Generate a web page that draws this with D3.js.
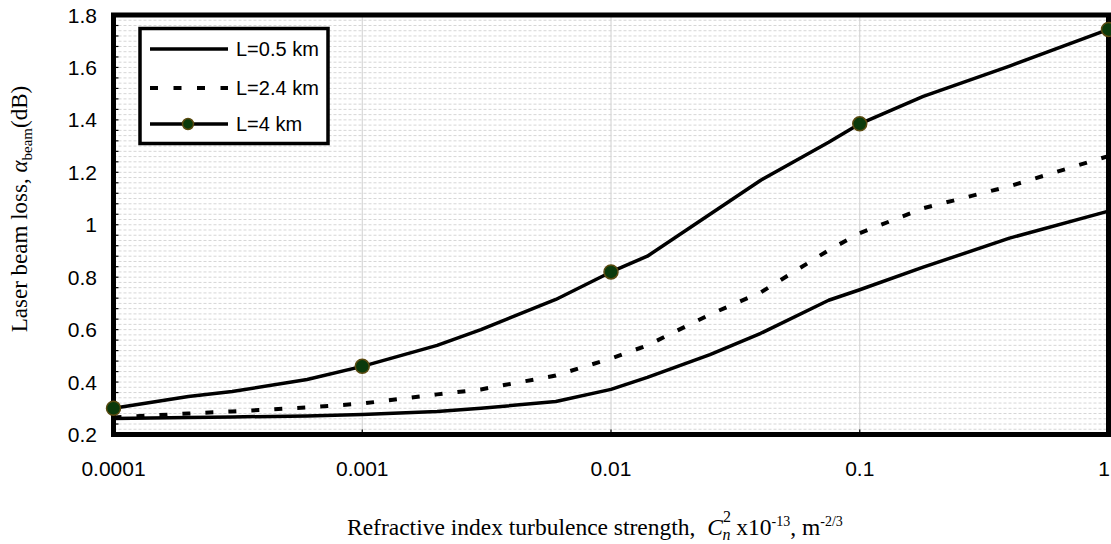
<!DOCTYPE html>
<html>
<head>
<meta charset="utf-8">
<script src="https://cdn.jsdelivr.net/npm/d3@7"></script>
<style>
  html, body { margin: 0; padding: 0; background: #fff; }
  svg { display: block; }
</style>
</head>
<body>
<svg id="chart" width="1111" height="544"></svg>
<script>
// ---- data ----
const cn2 = [0.0001, 0.0002, 0.0003, 0.0006, 0.001, 0.002, 0.003, 0.006, 0.01, 0.014, 0.025, 0.04, 0.075, 0.1, 0.18, 0.4, 1];
const lossL05 = [0.261, 0.265, 0.267, 0.271, 0.276, 0.288, 0.300, 0.326, 0.372, 0.418, 0.505, 0.586, 0.712, 0.752, 0.838, 0.949, 1.052];
const lossL24 = [0.265, 0.280, 0.288, 0.303, 0.318, 0.353, 0.372, 0.425, 0.490, 0.540, 0.658, 0.742, 0.903, 0.968, 1.063, 1.147, 1.262];
const lossL4  = [0.300, 0.345, 0.364, 0.410, 0.460, 0.540, 0.600, 0.715, 0.820, 0.880, 1.040, 1.170, 1.315, 1.385, 1.490, 1.605, 1.745];
const markerX = [0.0001, 0.001, 0.01, 0.1, 1];
const seriesNames = ["L=0.5 km", "L=2.4 km", "L=4 km"];
const xTickValues = [0.0001, 0.001, 0.01, 0.1, 1];
const xTickLabels = ["0.0001", "0.001", "0.01", "0.1", "1"];
const yTickValues = [0.2, 0.4, 0.6, 0.8, 1.0, 1.2, 1.4, 1.6, 1.8];
const yTickLabels = ["0.2", "0.4", "0.6", "0.8", "1", "1.2", "1.4", "1.6", "1.8"];

// ---- layout ----
const svg = d3.select("#chart");
const L = 113.5, R = 1108.5, T = 15, B = 434.5;
const x = d3.scaleLog().domain([0.0001, 1]).range([L, R]);
const y = d3.scaleLinear().domain([0.2, 1.8]).range([B, T]);

// gridlines
const minorY = d3.range(11, 90).map(i => i * 0.02).filter(v => v > 0.2001 && v < 1.7999);
svg.append("g").selectAll("line").data(minorY).join("line")
  .attr("x1", L).attr("x2", R)
  .attr("y1", d => y(d)).attr("y2", d => y(d))
  .attr("stroke", "#d6d6d6").attr("stroke-width", 1).attr("stroke-dasharray", "3,2");
svg.append("g").selectAll("line").data([0.001, 0.01, 0.1]).join("line")
  .attr("x1", d => x(d)).attr("x2", d => x(d))
  .attr("y1", T).attr("y2", B)
  .attr("stroke", "#d0d0d0").attr("stroke-width", 1);

// left axis minor ticks (inside)
const tickY = d3.range(5, 46).map(i => i * 0.04).filter(v => v > 0.2001 && v < 1.7999);
svg.append("g").selectAll("line").data(tickY).join("line")
  .attr("x1", L).attr("x2", L + 5)
  .attr("y1", d => y(d)).attr("y2", d => y(d))
  .attr("stroke", "#000").attr("stroke-width", 1.2);
svg.append("g").selectAll("line").data([0.001, 0.01, 0.1]).join("line")
  .attr("x1", d => x(d)).attr("x2", d => x(d))
  .attr("y1", B).attr("y2", B - 5)
  .attr("stroke", "#000").attr("stroke-width", 1.2);

// lines
const pts = arr => cn2.map((c, i) => [c, arr[i]]);
const line = d3.line().x(d => x(d[0])).y(d => y(d[1])).curve(d3.curveLinear);
svg.append("path").attr("d", line(pts(lossL05)))
  .attr("fill", "none").attr("stroke", "#000").attr("stroke-width", 3.5).attr("stroke-linejoin", "round");
svg.append("path").attr("d", line(pts(lossL24)))
  .attr("fill", "none").attr("stroke", "#000").attr("stroke-width", 4).attr("stroke-dasharray", "8,15");
svg.append("path").attr("d", line(pts(lossL4)))
  .attr("fill", "none").attr("stroke", "#000").attr("stroke-width", 3.5).attr("stroke-linejoin", "round");

// frame
svg.append("rect").attr("x", L).attr("y", T).attr("width", R - L).attr("height", B - T)
  .attr("fill", "none").attr("stroke", "#000").attr("stroke-width", 5);

// markers
svg.append("g").selectAll("circle").data(markerX).join("circle")
  .attr("cx", d => x(d)).attr("cy", d => y(lossL4[cn2.indexOf(d)]))
  .attr("r", 7).attr("fill", "#0b3a0b").attr("stroke", "#5a4a10").attr("stroke-width", 1.5);

// tick labels
svg.append("g").selectAll("text").data(xTickValues).join("text")
  .attr("x", d => Math.min(x(d), 1104)).attr("y", 476)
  .attr("text-anchor", "middle")
  .attr("font-family", "Liberation Sans, Arial, sans-serif").attr("font-size", 21)
  .text((d, i) => xTickLabels[i]);
svg.append("g").selectAll("text").data(yTickValues).join("text")
  .attr("x", 97).attr("y", d => y(d)).attr("dy", "0.36em")
  .attr("text-anchor", "end")
  .attr("font-family", "Liberation Sans, Arial, sans-serif").attr("font-size", 21)
  .text((d, i) => yTickLabels[i]);

// y-axis title
const yt = svg.append("text")
  .attr("transform", "translate(27,209) rotate(-90)")
  .attr("text-anchor", "middle")
  .attr("font-family", "Liberation Serif, Times New Roman, serif").attr("font-size", 23);
yt.append("tspan").text("Laser beam loss, ");
yt.append("tspan").attr("font-style", "italic").text("α");
yt.append("tspan").attr("font-size", 15).attr("dy", 5).text("beam");
yt.append("tspan").attr("dy", -5).text("(dB)");

// x-axis title
const xfont = "Liberation Serif, Times New Roman, serif";
const xt = svg.append("text")
  .attr("x", 347).attr("y", 535)
  .attr("font-family", xfont).attr("font-size", 23.5);
xt.append("tspan").text("Refractive index turbulence strength,\u00a0\u00a0");
xt.append("tspan").attr("font-style", "italic").text("C");
xt.append("tspan").attr("font-size", 16).attr("dy", -13).text("2");
xt.append("tspan").attr("font-size", 16).attr("font-style", "italic").attr("dx", -8.5).attr("dy", 18).text("n");
xt.append("tspan").attr("dy", -5).text("\u00a0x10");
xt.append("tspan").attr("font-size", 14).attr("dy", -9).text("-13");
xt.append("tspan").attr("dy", 9).text(", m");
xt.append("tspan").attr("font-size", 14).attr("dy", -9).text("-2/3");

// legend
const lg = svg.append("g");
lg.append("rect").attr("x", 140).attr("y", 28.5).attr("width", 188).attr("height", 115)
  .attr("fill", "#fff").attr("stroke", "#000").attr("stroke-width", 3.5);
const rowsY = [49, 88, 124];
const styles = [
  { dash: null, w: 3.5, marker: false },
  { dash: "8,15.5", w: 4, marker: false },
  { dash: null, w: 3.5, marker: true }
];
seriesNames.forEach((name, i) => {
  lg.append("line").attr("x1", 150).attr("x2", 228).attr("y1", rowsY[i]).attr("y2", rowsY[i])
    .attr("stroke", "#000").attr("stroke-width", styles[i].w)
    .attr("stroke-dasharray", styles[i].dash);
  if (styles[i].marker) {
    lg.append("circle").attr("cx", 188).attr("cy", rowsY[i]).attr("r", 5.5)
      .attr("fill", "#0b3a0b").attr("stroke", "#5a4a10").attr("stroke-width", 1.5);
  }
  lg.append("text").attr("x", 236).attr("y", rowsY[i]).attr("dy", "0.36em")
    .attr("font-family", "Liberation Sans, Arial, sans-serif").attr("font-size", 20)
    .text(name);
});
</script>
</body>
</html>
